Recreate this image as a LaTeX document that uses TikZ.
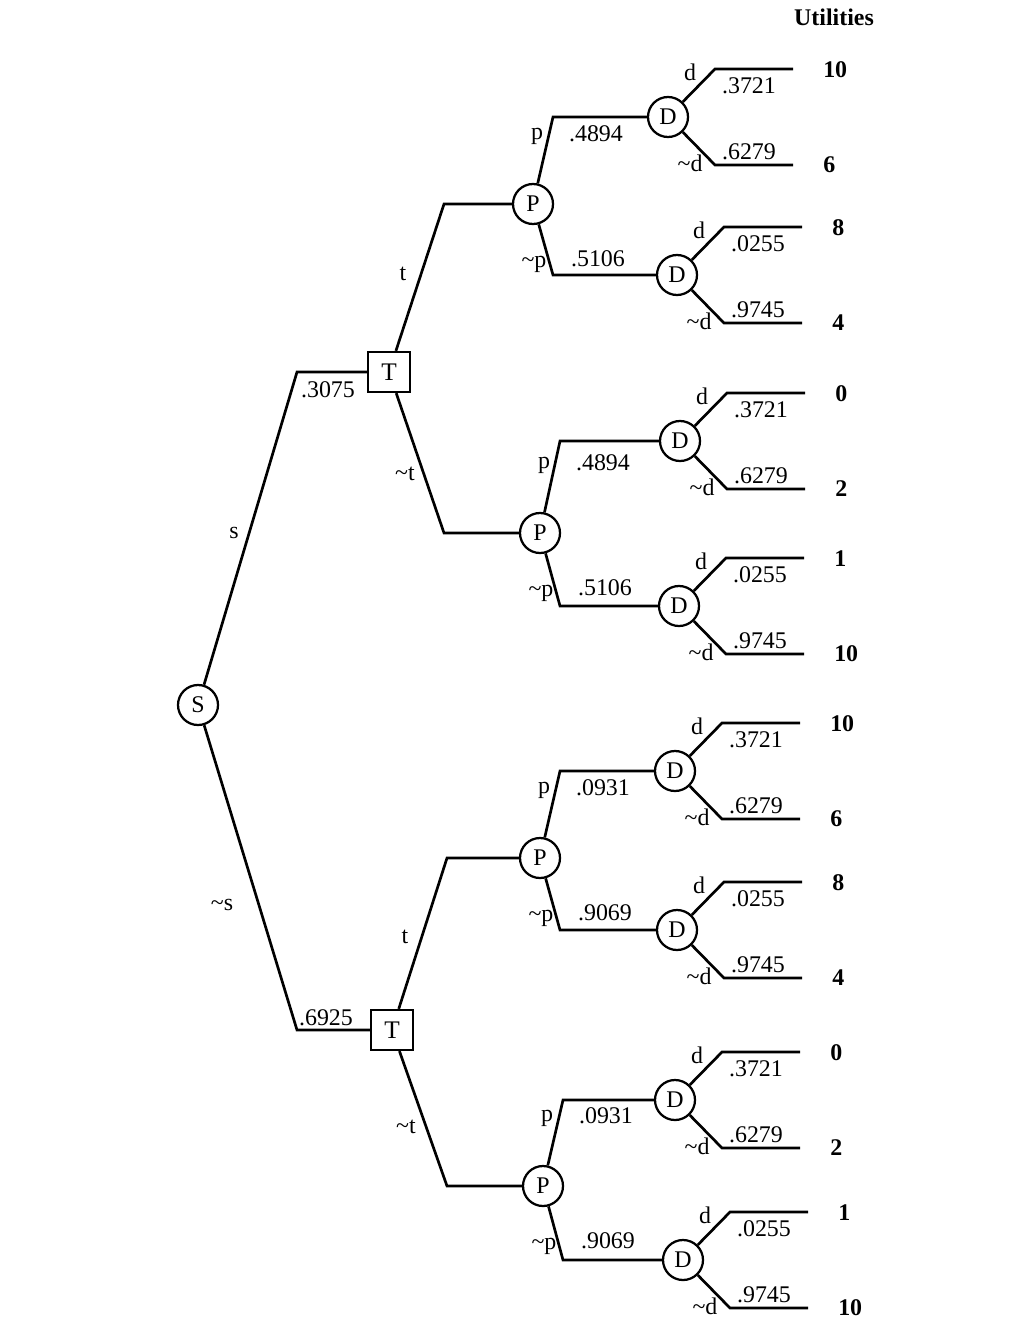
\documentclass[tikz,border=0pt]{standalone}
\usepackage{fontspec}
\setmainfont{Liberation Serif}
\usepackage{tikz}
\usetikzlibrary{calc}
\tikzset{
  %%── tree nodes ────────────────────────────────────────────
  chance/.style = {
    circle, draw, line width = 1.6pt,
    minimum size = 1.0cm, inner sep = 0pt,
    font = \fontsize{17}{19}\selectfont
  },
  decision/.style = {
    rectangle, draw, line width = 1.6pt,
    minimum width = 1.05cm, minimum height = 1.0cm, inner sep = 0pt,
    font = \fontsize{18}{20}\selectfont
  },
  %%── labels ────────────────────────────────────────────────
  lbl/.style  = {inner sep = 0pt, font = \fontsize{17}{19}\selectfont},
  util/.style = {inner sep = 0pt, anchor = west,
                 font = \fontsize{17}{19}\selectfont\bfseries},
  %%── branches ──────────────────────────────────────────────
  branch/.style = {line width = 1.9pt, line join = miter},
}
%% D node with its two outcome branches
%% #1 name, #2 position, #3 P(d), #4 P(~d), #5 utility d, #6 utility ~d
\newcommand{\dfork}[6]{%
  \node[chance] (#1) at (#2) {D};
  \coordinate (#1u)  at ($(#1)+(47,-48)$);
  \coordinate (#1ue) at ($(#1)+(125,-48)$);
  \coordinate (#1l)  at ($(#1)+(47,48)$);
  \coordinate (#1le) at ($(#1)+(125,48)$);
  \draw[branch] (#1) -- (#1u) -- (#1ue);
  \draw[branch] (#1) -- (#1l) -- (#1le);
  \node[lbl] (#1d)  at ($(#1)+(22,-45)$) {d};
  \node[lbl] (#1pu) at ($(#1)+(81,-31)$) {#3};
  \node[lbl] (#1nd) at ($(#1)+(22,46)$)  {\textasciitilde d};
  \node[lbl] (#1pl) at ($(#1)+(81,35)$)  {#4};
  \node[util] (#1vu) at ($(#1ue)+(30,1)$) {#5};
  \node[util] (#1vl) at ($(#1le)+(30,0)$) {#6};
}
%% P node feeding two D nodes
%% #1 name, #2 upper D, #3 lower D, #4 P(p), #5 P(~p)
\newcommand{\pfork}[5]{%
  \coordinate (#1u) at ($(#1 |- #2)+(20,0)$);
  \coordinate (#1l) at ($(#1 |- #3)+(20,0)$);
  \draw[branch] (#1) -- (#1u) -- (#2);
  \draw[branch] (#1) -- (#1l) -- (#3);
  \node[lbl] (#1p)  at ($(#1)+(4,-68)$)  {p};
  \node[lbl] (#1pu) at ($(#1)+(63,-70)$) {#4};
  \node[lbl] (#1np) at ($(#1)+(1,60)$)   {\textasciitilde p};
  \node[lbl] (#1pl) at ($(#1)+(65,55)$)  {#5};
}

\begin{document}
\begin{tikzpicture}[x = 0.025cm, y = -0.025cm]
  \useasboundingbox (0,0) rectangle (1025,1320);

  \node[util, anchor = center] (head) at (834,17) {Utilities};

  %% root and test nodes
  \node[chance]   (S)  at (198,705)  {S};
  \node[decision] (T1) at (389,372)  {T};
  \node[decision] (T2) at (392,1030) {T};
  \coordinate (sT1) at (297,372);
  \coordinate (sT2) at (297,1030);
  \draw[branch] (S) -- (sT1) -- (T1);
  \draw[branch] (S) -- (sT2) -- (T2);
  \node[lbl] (s)   at (234,533)  {s};
  \node[lbl] (ns)  at (222,905)  {\textasciitilde s};
  \node[lbl] (ps)  at (328,390)  {.3075};
  \node[lbl] (pns) at (326,1018) {.6925};

  %% P nodes
  \node[chance] (P1) at (533,204)  {P};
  \node[chance] (P2) at (540,533)  {P};
  \node[chance] (P3) at (540,858)  {P};
  \node[chance] (P4) at (543,1186) {P};
  \coordinate (tP1) at (444,204);
  \coordinate (tP2) at (444,533);
  \coordinate (tP3) at (447,858);
  \coordinate (tP4) at (447,1186);
  \draw[branch] (T1) -- (tP1) -- (P1);
  \draw[branch] (T1) -- (tP2) -- (P2);
  \draw[branch] (T2) -- (tP3) -- (P3);
  \draw[branch] (T2) -- (tP4) -- (P4);
  \node[lbl] (t1)  at ($(T1)+(14,-98)$) {t};
  \node[lbl] (nt1) at ($(T1)+(16,102)$) {\textasciitilde t};
  \node[lbl] (t2)  at ($(T2)+(13,-93)$) {t};
  \node[lbl] (nt2) at ($(T2)+(14,97)$)  {\textasciitilde t};

  %% D nodes and utilities
  \dfork{D1}{668,117}{.3721}{.6279}{10}{6}
  \dfork{D2}{677,275}{.0255}{.9745}{8}{4}
  \dfork{D3}{680,441}{.3721}{.6279}{0}{2}
  \dfork{D4}{679,606}{.0255}{.9745}{1}{10}
  \dfork{D5}{675,771}{.3721}{.6279}{10}{6}
  \dfork{D6}{677,930}{.0255}{.9745}{8}{4}
  \dfork{D7}{675,1100}{.3721}{.6279}{0}{2}
  \dfork{D8}{683,1260}{.0255}{.9745}{1}{10}

  \pfork{P1}{D1}{D2}{.4894}{.5106}
  \pfork{P2}{D3}{D4}{.4894}{.5106}
  \pfork{P3}{D5}{D6}{.0931}{.9069}
  \pfork{P4}{D7}{D8}{.0931}{.9069}
\end{tikzpicture}
\end{document}
